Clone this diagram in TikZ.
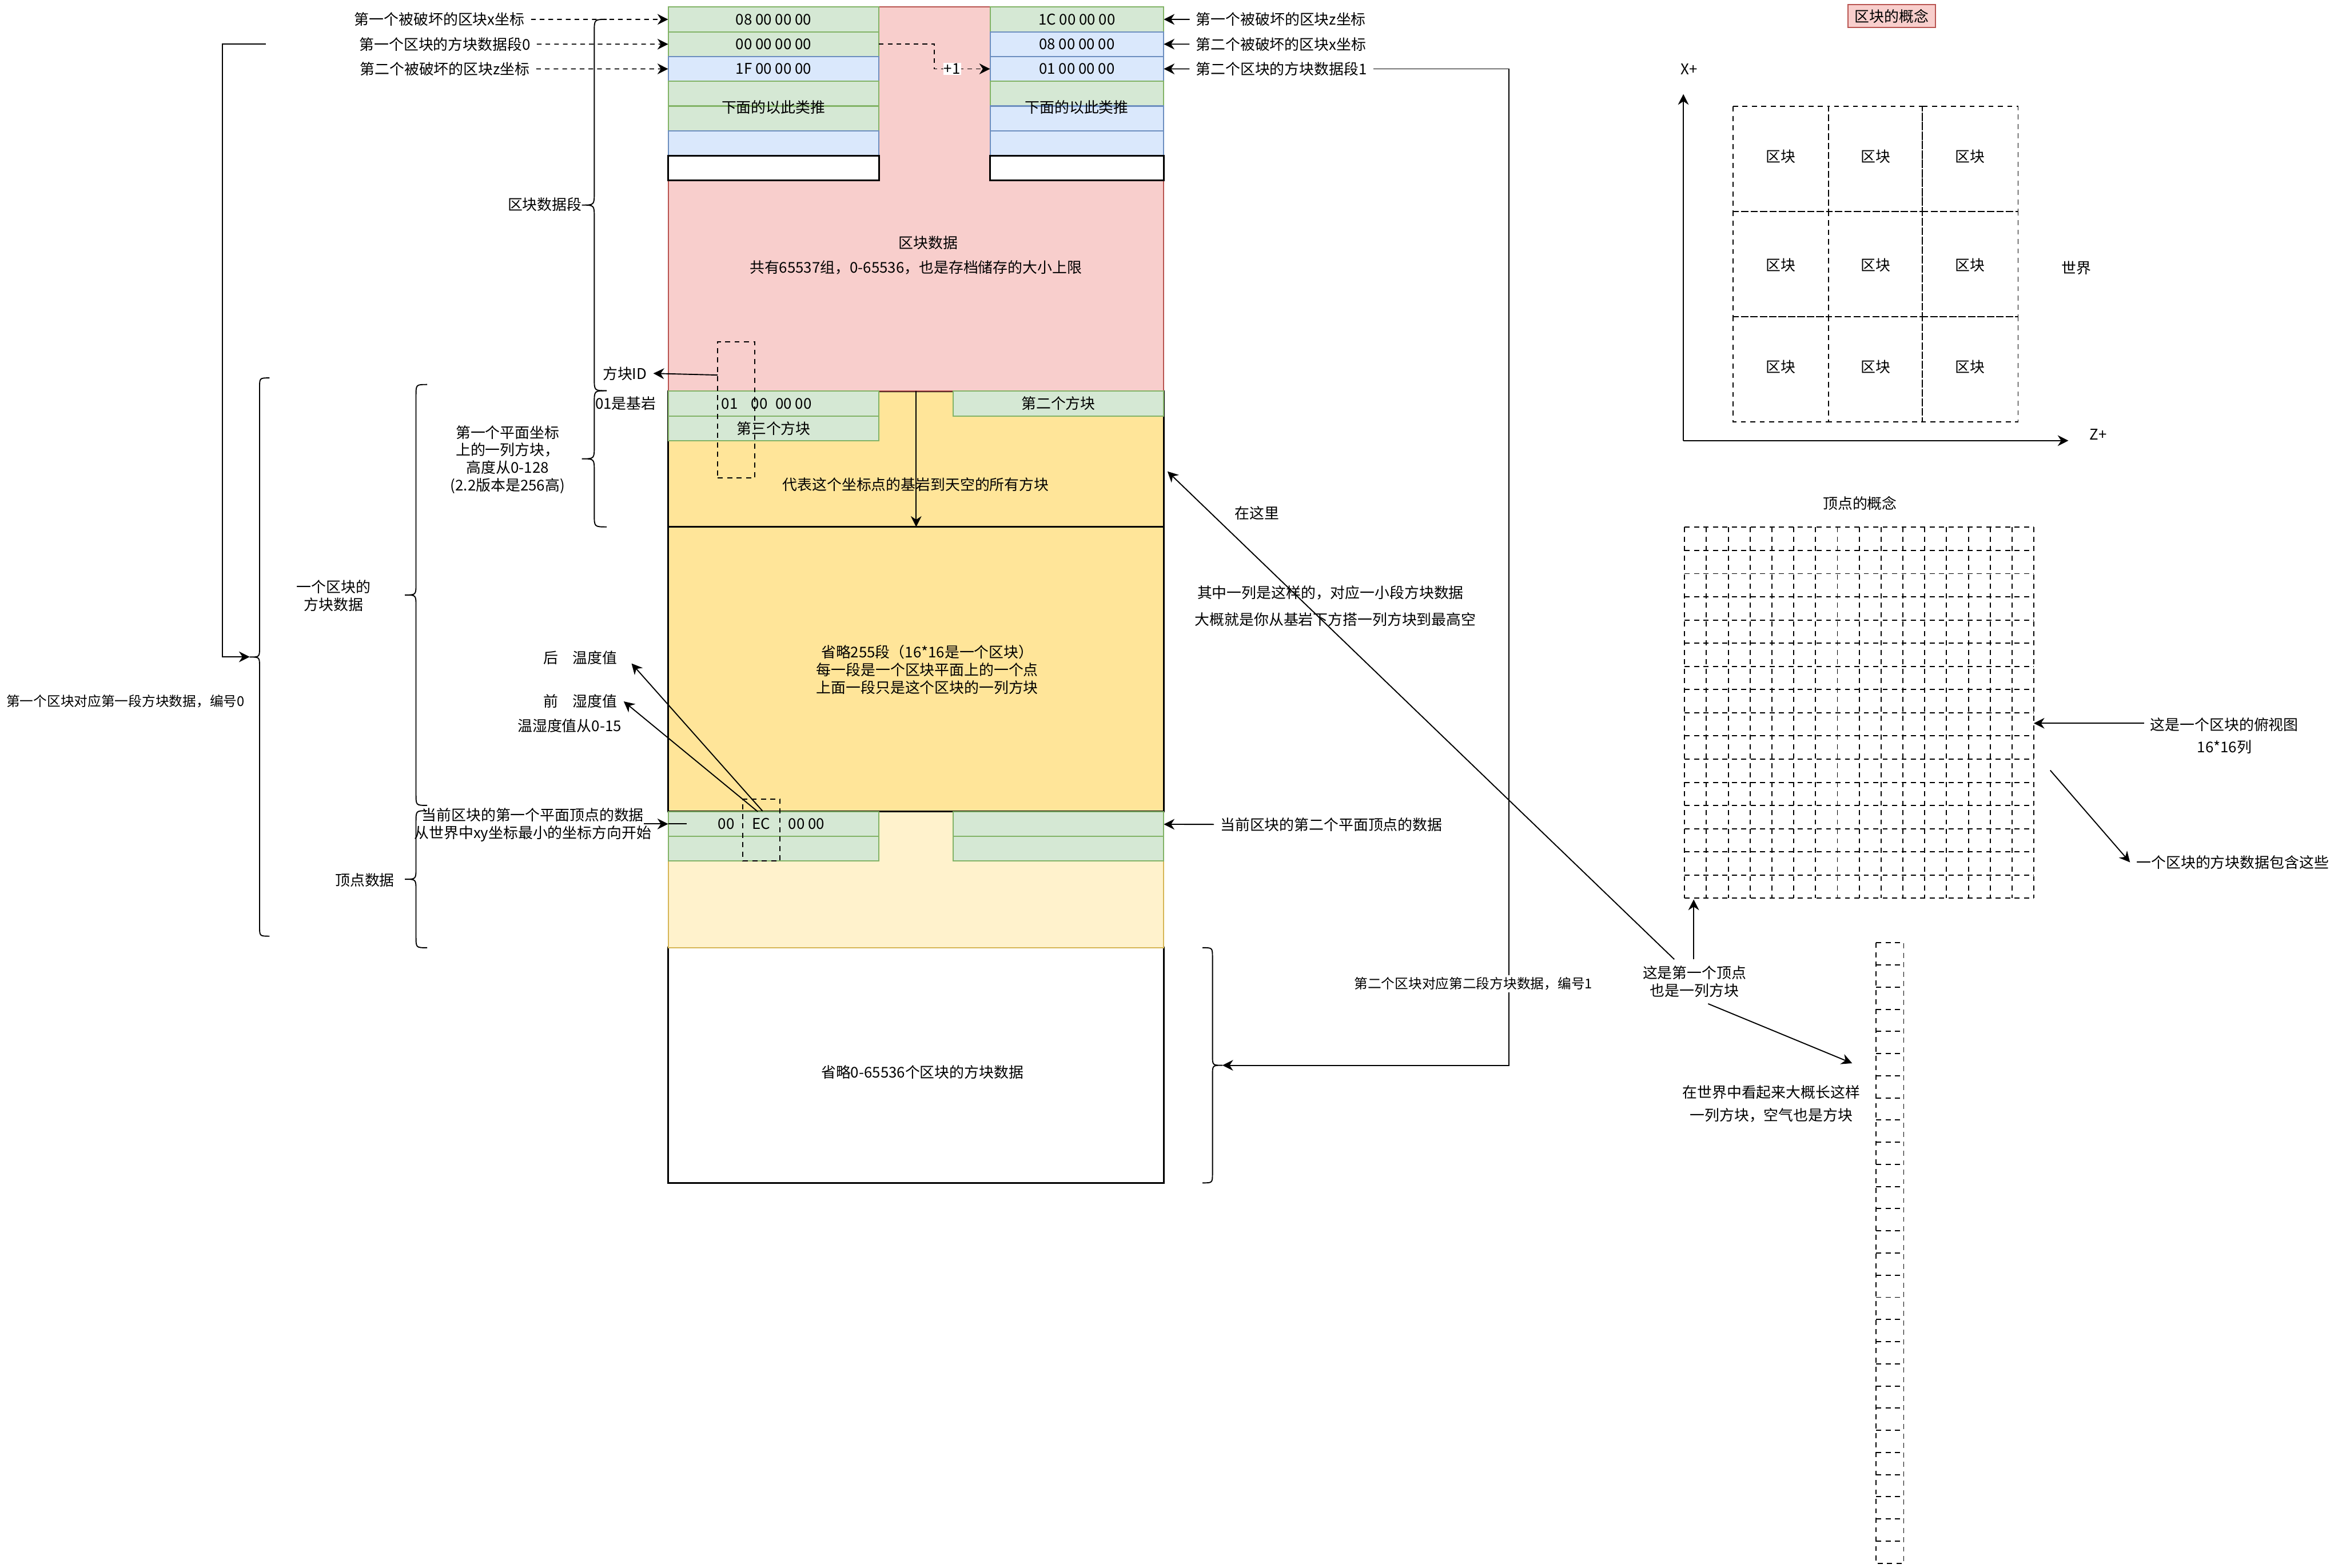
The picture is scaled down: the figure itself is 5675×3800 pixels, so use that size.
\documentclass[tikz,border=0pt]{standalone}
\usepackage{fontspec}
\setmainfont{Noto Sans CJK SC}
\usetikzlibrary{arrows.meta,calc,positioning}

\definecolor{lvtian}{HTML}{D5E8D4}
\definecolor{lvbian}{HTML}{82B366}
\definecolor{lantian}{HTML}{DAE8FC}
\definecolor{lanbian}{HTML}{6C8EBF}
\definecolor{hongtian}{HTML}{F8CECC}
\definecolor{hongbian}{HTML}{B85450}
\definecolor{huangtian}{HTML}{FFE599}
\definecolor{qianhuang}{HTML}{FFF2CC}
\definecolor{huangbian}{HTML}{D6B656}

% 花括号: 端点x, 上y, 下y, 宽度(负数朝左)
\newcommand{\kuohao}[4]{%
  \draw[xian] (#1,#2) .. controls ({#1+(#4)},#2) .. ({#1+(#4)},{#2+abs(#4)})
    -- ({#1+(#4)},{(#2+#3)/2-abs(#4)}) .. controls ({#1+(#4)},{(#2+#3)/2}) .. ({#1+2*(#4)},{(#2+#3)/2})
    .. controls ({#1+(#4)},{(#2+#3)/2}) .. ({#1+(#4)},{(#2+#3)/2+abs(#4)})
    -- ({#1+(#4)},{#3-abs(#4)}) .. controls ({#1+(#4)},#3) .. (#1,#3);}

\begin{document}
\begin{tikzpicture}[x=0.1mm, y=-0.1mm,
  wz/.style={font=\fontsize{10.2}{12.2}\selectfont, inner sep=1.5mm, align=center},
  xiaozi/.style={wz, font=\fontsize{9.35}{11.2}\selectfont},
  ge/.style={wz, inner sep=0pt, outer sep=0pt, anchor=north west, line width=0.8pt},
  lvge/.style={ge, draw=lvbian, fill=lvtian},
  lange/.style={ge, draw=lanbian, fill=lantian},
  heige/.style={ge, draw=black, fill=white, line width=1.2pt},
  zuokuan/.style={minimum width=51.1mm, minimum height=6mm},
  youkuan/.style={minimum width=42.1mm, minimum height=6mm},
  xian/.style={draw=black, line width=0.75pt},
  jian/.style={xian, -{Stealth[length=2.6mm, width=2.6mm]}},
  dianjian/.style={jian, dash pattern=on 3.2pt off 2.8pt},
  xukuang/.style={draw, line width=0.75pt, dash pattern=on 3.5pt off 3pt},
]

% 画布
\fill[white] (0,0) rectangle (5675,3800);
\useasboundingbox (0,0) rectangle (5675,3800);

% 省略的区块 / 顶点数据 / 方块数据
\node[heige, minimum width=120.1mm, minimum height=57mm] (shenglue) at (1619,2297) {};
\node[ge, draw=huangbian, fill=qianhuang, minimum width=120.1mm, minimum height=33mm] (qianhuang1) at (1619,1967) {};
\node[ge, draw=black, fill=huangtian, line width=1pt, minimum width=120.1mm, minimum height=69mm] (huang2) at (1619,1277) {};
\node[ge, draw=black, fill=huangtian, line width=1pt, minimum width=120.1mm, minimum height=32.9mm] (huang1) at (1619,948) {};

% 区块数据
\node[ge, draw=hongbian, fill=hongtian, minimum width=120.1mm, minimum height=93.1mm] (hong) at (1619,17) {};
\node[wz] (qksj) at (2249,588) {区块数据};
\node[wz] (gongyou) at (2219,649) {共有65537组，0-65536，也是存档储存的大小上限};

% 左边的数据段
\node[lvge, zuokuan] (L1) at (1619,17) {08 00 00 00};
\node[lvge, zuokuan] (L2) at (1619,77) {00 00 00 00};
\node[lange, zuokuan] (L3) at (1619,137) {1F 00 00 00};
\node[lvge, zuokuan] (L4) at (1619,197) {};
\node[lvge, zuokuan] (L5) at (1619,257) {};
\node[lange, zuokuan] (L6) at (1619,317) {};
\node[heige, zuokuan] (L7) at (1619,377) {};
\node[wz] (zlc) at (1874,260) {下面的以此类推};

% 右边的数据段
\node[lvge, youkuan] (R1) at (2399,17) {1C 00 00 00};
\node[lange, youkuan] (R2) at (2399,77) {08 00 00 00};
\node[lange, youkuan] (R3) at (2399,137) {01 00 00 00};
\node[lvge, youkuan] (R4) at (2399,197) {};
\node[lange, youkuan] (R5) at (2399,257) {};
\node[lange, youkuan] (R6) at (2399,317) {};
\node[heige, youkuan] (R7) at (2399,377) {};
\node[wz] (ylc) at (2609,260) {下面的以此类推};

% 一列方块
\node[lvge, zuokuan] (B1) at (1619,948) {};
\node[lvge, zuokuan] (B2) at (1619,1008) {第三个方块};
\node[lvge, zuokuan] (B3) at (2309,948) {第二个方块};
\node[wz] (id01) at (1768,978) {01};
\node[wz] (id00) at (1840,978) {00};
\node[wz] (id0000) at (1923,978) {00 00};
\coordinate (lie) at (2220,0);
\draw[jian] (hong.south -| lie) -- (huang1.south -| lie);
\node[wz] (daibiao) at (2219,1174) {代表这个坐标点的基岩到天空的所有方块};
\node[wz] (sl255) at (2247,1623) {省略255段（16*16是一个区块）\\每一段是一个区块平面上的一个点\\上面一段只是这个区块的一列方块};

% 顶点数据
\node[lvge, zuokuan] (V1) at (1619,1967) {};
\node[lvge, zuokuan] (V2) at (1619,2027) {};
\node[lvge, zuokuan] (V3) at (2309,1967) {};
\node[lvge, zuokuan] (V4) at (2309,2027) {};
\node[wz] (dd00) at (1760,1997) {00};
\node[wz] (ddec) at (1844,1997) {EC};
\node[wz] (dd0000) at (1954,1997) {00 00};
\node[wz] (sl65536) at (2235,2598) {省略0-65536个区块的方块数据};

% 虚线框
\node[xukuang, minimum width=9mm, minimum height=33mm, anchor=north west, inner sep=0pt, outer sep=0pt] (idkuang) at (1739,828) {};
\node[xukuang, minimum width=9mm, minimum height=15mm, anchor=north west, inner sep=0pt, outer sep=0pt] (eckuang) at (1800,1937) {};

% 左侧说明
\node[wz] (zx1) at (1065,47) {第一个被破坏的区块x坐标};
\node[wz] (zd0) at (1078,107) {第一个区块的方块数据段0};
\node[wz] (zz2) at (1078,167) {第二个被破坏的区块z坐标};
\draw[dianjian] (zx1) -- (L1);
\draw[dianjian] (zd0) -- (L2);
\draw[dianjian] (zz2) -- (L3);

% 右侧说明
\node[wz] (yz1) at (3104,47) {第一个被破坏的区块z坐标};
\node[wz] (yx2) at (3104,107) {第二个被破坏的区块x坐标};
\node[wz] (yd1) at (3105,167) {第二个区块的方块数据段1};
\draw[jian] (yz1) -- (R1);
\draw[jian] (yx2) -- (R2);
\draw[jian] (yd1) -- (R3);

% +1
\draw[dianjian] (L2.east) -- ++(134,0) |- node[pos=0.66, wz, fill=white, inner sep=0.5pt] (jia1) {+1} (R3.west);

% 第二个区块
\coordinate (zhe1) at (3656,2582);
\coordinate (yjian) at (2962,2582);
\draw[jian] (yd1) -| (zhe1) -- (yjian);
\node[xiaozi, fill=white, inner sep=0.5mm] (bh1) at (3570,2384) {第二个区块对应第二段方块数据，编号1};
\kuohao{2914}{2297}{2867}{24}

% 第一个区块
\coordinate (duan0) at (644,107);
\coordinate (zjian) at (605,1592);
\draw[jian] (duan0) -- (539,107) |- (zjian);
\kuohao{653}{916}{2269}{-24}
\node[xiaozi] (bh0) at (304,1700) {第一个区块对应第一段方块数据，编号0};

% 括号
\kuohao{1470}{47}{947}{-30}
\node[wz] (qksjd) at (1320,496) {区块数据段};
\kuohao{1470}{947}{1277}{-30}
\node[wz] (pmzb) at (1230,1114) {第一个平面坐标\\上的一列方块，\\高度从0-128\\(2.2版本是256高)};
\node[wz] (jiyan) at (1516,978) {01是基岩};
\node[wz] (fkid) at (1514,905) {方块ID};
\draw[jian] ($(idkuang.north west)+(0,81)$) -- (fkid.east);
\kuohao{1035}{932}{1952}{-27}
\node[wz] (fksj) at (808,1444) {一个区块的\\方块数据};
\kuohao{1035}{1965}{2297}{-27}
\node[wz] (ddsj) at (884,2133) {顶点数据};

% 顶点说明
\node[wz] (dd1) at (1291,2000) {当前区块的第一个平面顶点的数据\\从世界中xy坐标最小的坐标方向开始};
\draw[jian] ([xshift=-5.9mm]V1.west) -- (V1.west);
\draw[xian] (V1.west) -- ++(45,0);
\node[wz] (dd2) at (3226,1999) {当前区块的第二个平面顶点的数据};
\draw[jian] (dd2) -- (V3);

% 温湿度
\node[wz] (hou) at (1406,1594) {后\quad 温度值};
\node[wz] (qian) at (1406,1700) {前\quad 湿度值};
\node[wz] (wsd) at (1380,1759) {温湿度值从0-15};
\draw[jian] ($(eckuang.north west)+(48,29)$) -- ([shift={(1.9mm,-1.4mm)}]hou.east);
\draw[jian] ($(eckuang.north west)+(36,30)$) -- (qian.east);

% 在这里
\node[wz] (zzl) at (3046,1243) {在这里};
\node[wz] (qzyl) at (3224,1437) {其中一列是这样的，对应一小段方块数据};
\node[wz] (dgjs) at (3236,1502) {大概就是你从基岩下方搭一列方块到最高空};
\node[wz] (dyd) at (4106,2379) {这是第一个顶点\\也是一列方块};
\draw[jian] ([xshift=-4.9mm]dyd.north) -- ([shift={(0.9mm,-3mm)}]huang1.east);
\coordinate (dijiao) at (4104,2180);
\draw[jian] (dyd.north -| dijiao) -- (dijiao);
\coordinate (lietou) at (4488,2577);
\draw[jian] ([xshift=3.3mm]dyd.south) -- (lietou);
\node[wz] (sjz) at (4292,2675) {在世界中看起来大概长这样\\[1.3mm]一列方块，空气也是方块};

% 一列方块
\draw[xukuang] (4546,2285) rectangle (4613,3789);
\foreach \k in {1,...,27}
  \draw[xukuang] (4546,{2285+\k*53.71}) -- ++(67,0);

% 区块的概念
\node[wz, draw=hongbian, fill=hongtian, line width=0.8pt, minimum width=21.1mm, minimum height=5.6mm, inner sep=0pt] (qkgn) at (4584,39) {区块的概念};
\coordinate (yuandian) at (4079,1068);
\coordinate (xzhou) at (4079,228);
\coordinate (zzhou) at (5012,1068);
\draw[jian] (yuandian) -- (xzhou);
\draw[jian] (yuandian) -- (zzhou);
\node[wz] (xplus) at (4093,168) {X+};
\node[wz] (zplus) at (5084,1053) {Z+};
\foreach \xa/\xb in {4199/4431,4431/4658,4658/4890}
  \foreach \ya/\yb/\yl in {258/512/379,512/767/642,767/1022/889}
  {
    \draw[xukuang] (\xa,\ya) rectangle (\xb,\yb);
    \node[wz] (qk\xa\ya) at ({(\xa+\xb)/2},\yl) {区块};
  }
\node[wz] (shijie) at (5031,649) {世界};

% 顶点的概念
\node[wz] (ddgn) at (4507,1220) {顶点的概念};
\foreach \i in {0,...,16}
{
  \draw[xukuang] ({4082+\i*52.9},1278) -- ++(0,899);
  \draw[xukuang] (4082,{1278+\i*56.19}) -- ++(846,0);
}
\coordinate (wgdb) at (4928,1278);
\node[wz] (fst) at (5390,1783) {这是一个区块的俯视图\\[1.1mm]16*16列};
\coordinate (fsjt) at ([yshift=3mm]fst.west);
\draw[jian] (fsjt) -- (fsjt -| wgdb);
\coordinate (bhwei) at (4968,1867);
\node[wz] (bhzx) at (5410,2090) {一个区块的方块数据包含这些};
\draw[jian] (bhwei) -- (bhzx.west);

\end{tikzpicture}
\end{document}
